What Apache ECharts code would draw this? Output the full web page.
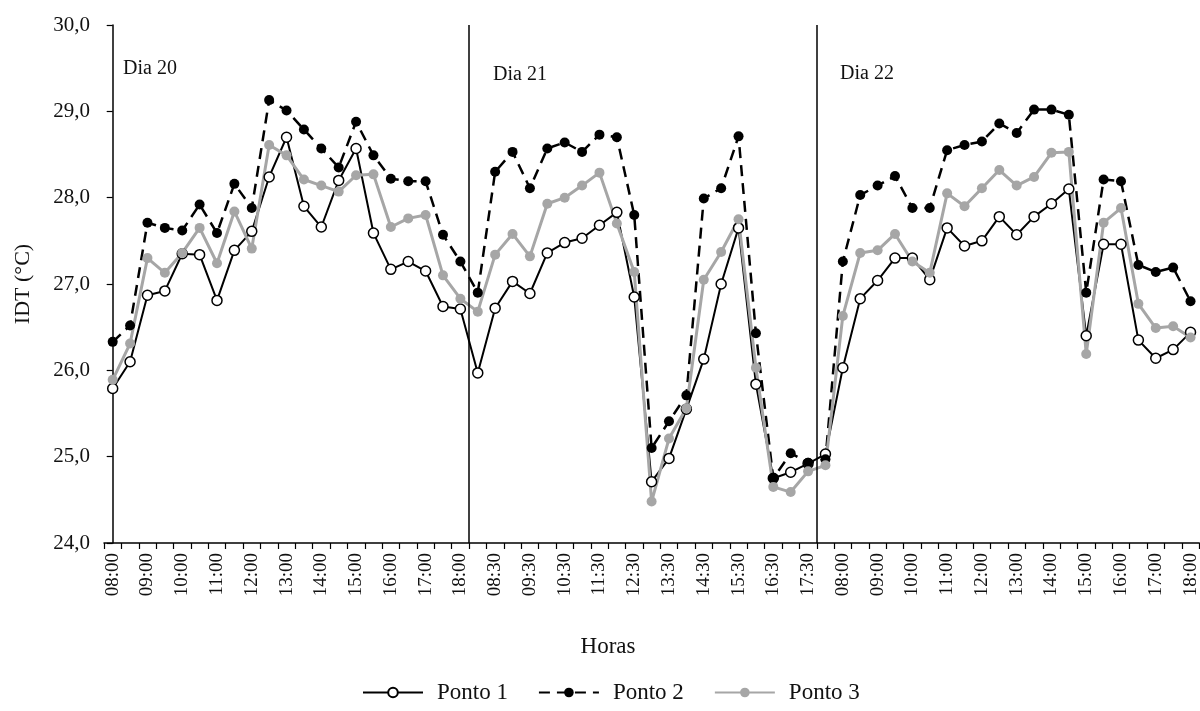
<!DOCTYPE html>
<html>
<head>
<meta charset="utf-8">
<script src="https://cdn.jsdelivr.net/npm/echarts@6/dist/echarts.min.js"></script>
<style>
html,body{margin:0;padding:0;background:#fff;}
#chart{width:1200px;height:711px;}
</style>
</head>
<body>
<div id="chart"></div>
<script>
// Half-hour time labels for one day (08:00 to 18:00)
const horasDia = ['08:00','08:30','09:00','09:30','10:00','10:30','11:00','11:30','12:00','12:30','13:00','13:30','14:00','14:30','15:00','15:30','16:00','16:30','17:00','17:30','18:00'];
const dias = ['Dia 20', 'Dia 21', 'Dia 22'];
const categorias = horasDia.concat(horasDia, horasDia);

// Ponto 1 (Dia 20, Dia 21, Dia 22)
const ponto1 = [
  25.79,26.10,26.87,26.92,27.35,27.34,26.81,27.39,27.61,28.24,28.70,27.90,27.66,28.20,28.57,27.59,27.17,27.26,27.15,26.74,26.71,
  25.97,26.72,27.03,26.89,27.36,27.48,27.53,27.68,27.83,26.85,24.71,24.98,25.55,26.13,27.00,27.65,25.84,24.75,24.82,24.92,25.03,
  26.03,26.83,27.04,27.30,27.30,27.05,27.65,27.44,27.50,27.78,27.57,27.78,27.93,28.10,26.40,27.46,27.46,26.35,26.14,26.24,26.44
];
// Ponto 2
const ponto2 = [
  26.33,26.52,27.71,27.65,27.62,27.92,27.59,28.16,27.88,29.13,29.01,28.79,28.57,28.35,28.88,28.49,28.22,28.19,28.19,27.57,27.26,
  26.90,28.30,28.53,28.11,28.57,28.64,28.53,28.73,28.70,27.80,25.10,25.41,25.71,27.99,28.11,28.71,26.43,24.75,25.04,24.93,24.97,
  27.26,28.03,28.14,28.25,27.88,27.88,28.55,28.61,28.65,28.86,28.75,29.02,29.02,28.96,26.90,28.21,28.19,27.22,27.14,27.19,26.80
];
// Ponto 3
const ponto3 = [
  25.89,26.31,27.30,27.13,27.36,27.65,27.24,27.84,27.41,28.61,28.49,28.21,28.14,28.07,28.26,28.27,27.66,27.76,27.80,27.10,26.83,
  26.68,27.34,27.58,27.32,27.93,28.00,28.14,28.29,27.70,27.14,24.48,25.21,25.56,27.05,27.37,27.75,26.03,24.65,24.59,24.83,24.90,
  26.63,27.36,27.39,27.58,27.26,27.13,28.05,27.90,28.11,28.32,28.14,28.24,28.52,28.53,26.19,27.71,27.88,26.77,26.49,26.51,26.38
];
// Day separators (category boundaries, in category-index units)
const separadores = [20.5, 40.5];

const serif = 'Liberation Serif, Times New Roman, serif';
const chart = echarts.init(document.getElementById('chart'));
chart.setOption({
  backgroundColor: '#fff',
  animation: false,
  grid: { left: 104, right: -3, top: 25, bottom: 168, containLabel: false },
  legend: {
    data: ['Ponto 1', 'Ponto 2', 'Ponto 3'],
    left: 357, top: 676,
    itemWidth: 60, itemHeight: 12, itemGap: 30,
    textStyle: { fontFamily: serif, fontSize: 23, color: '#111', padding: [0, 0, 0, 9] }
  },
  xAxis: [{
    type: 'category',
    data: categorias,
    boundaryGap: true,
    axisLine: { lineStyle: { color: '#000', width: 1.5 } },
    axisTick: { show: true, interval: 0, length: 6, lineStyle: { color: '#000', width: 1.2 } },
    axisLabel: { interval: 1, rotate: 90, margin: 10, fontFamily: serif, fontSize: 19, color: '#111' },
    splitLine: { show: false }
  }, {
    type: 'value', min: -0.5, max: 62.5, show: false
  }],
  yAxis: {
    type: 'value', min: 24, max: 30, interval: 1,
    axisLine: { show: true, lineStyle: { color: '#000', width: 1.5 } },
    axisTick: { show: true, length: 6, lineStyle: { color: '#000', width: 1.2 } },
    splitLine: { show: false },
    axisLabel: {
      margin: 14, fontFamily: serif, fontSize: 21, color: '#111',
      formatter: v => v.toFixed(1).replace('.', ',')
    },
    name: 'IDT (°C)', nameLocation: 'middle', nameGap: 70,
    nameTextStyle: { fontFamily: serif, fontSize: 22, color: '#111' }
  },
  graphic: [
    { type: 'text', left: 123, top: 59, style: { text: dias[0], font: '20px ' + serif, fill: '#111' } },
    { type: 'text', left: 493, top: 65, style: { text: dias[1], font: '20px ' + serif, fill: '#111' } },
    { type: 'text', left: 840, top: 64, style: { text: dias[2], font: '20px ' + serif, fill: '#111' } },
    { type: 'text', x: 608, y: 647, style: { text: 'Horas', font: '23px ' + serif, fill: '#111', align: 'center', verticalAlign: 'middle' } }
  ],
  series: [
    {
      name: 'Ponto 1', type: 'line', data: ponto1,
      symbol: 'circle', symbolSize: 10, showAllSymbol: true,
      lineStyle: { color: '#000', width: 2 },
      itemStyle: { color: '#fff', borderColor: '#000', borderWidth: 1.5 }
    },
    {
      name: 'Ponto 2', type: 'line', data: ponto2,
      symbol: 'circle', symbolSize: 10, showAllSymbol: true,
      lineStyle: { color: '#000', width: 2.5, type: [11, 7] },
      itemStyle: { color: '#000', borderColor: '#000', borderWidth: 0 }
    },
    {
      name: 'Ponto 3', type: 'line', data: ponto3,
      symbol: 'circle', symbolSize: 10, showAllSymbol: true,
      lineStyle: { color: '#a6a6a6', width: 3 },
      itemStyle: { color: '#a6a6a6', borderColor: '#a6a6a6', borderWidth: 0 }
    },
    {
      name: 'sep', type: 'line', xAxisIndex: 1, yAxisIndex: 0,
      data: [[0, 24]], symbol: 'none', lineStyle: { opacity: 0 }, silent: true,
      markLine: {
        silent: true, symbol: ['none', 'none'], label: { show: false },
        lineStyle: { color: '#000', width: 1.5, type: 'solid' },
        data: separadores.map(v => ({ xAxis: v }))
      }
    }
  ]
});
</script>
</body>
</html>
